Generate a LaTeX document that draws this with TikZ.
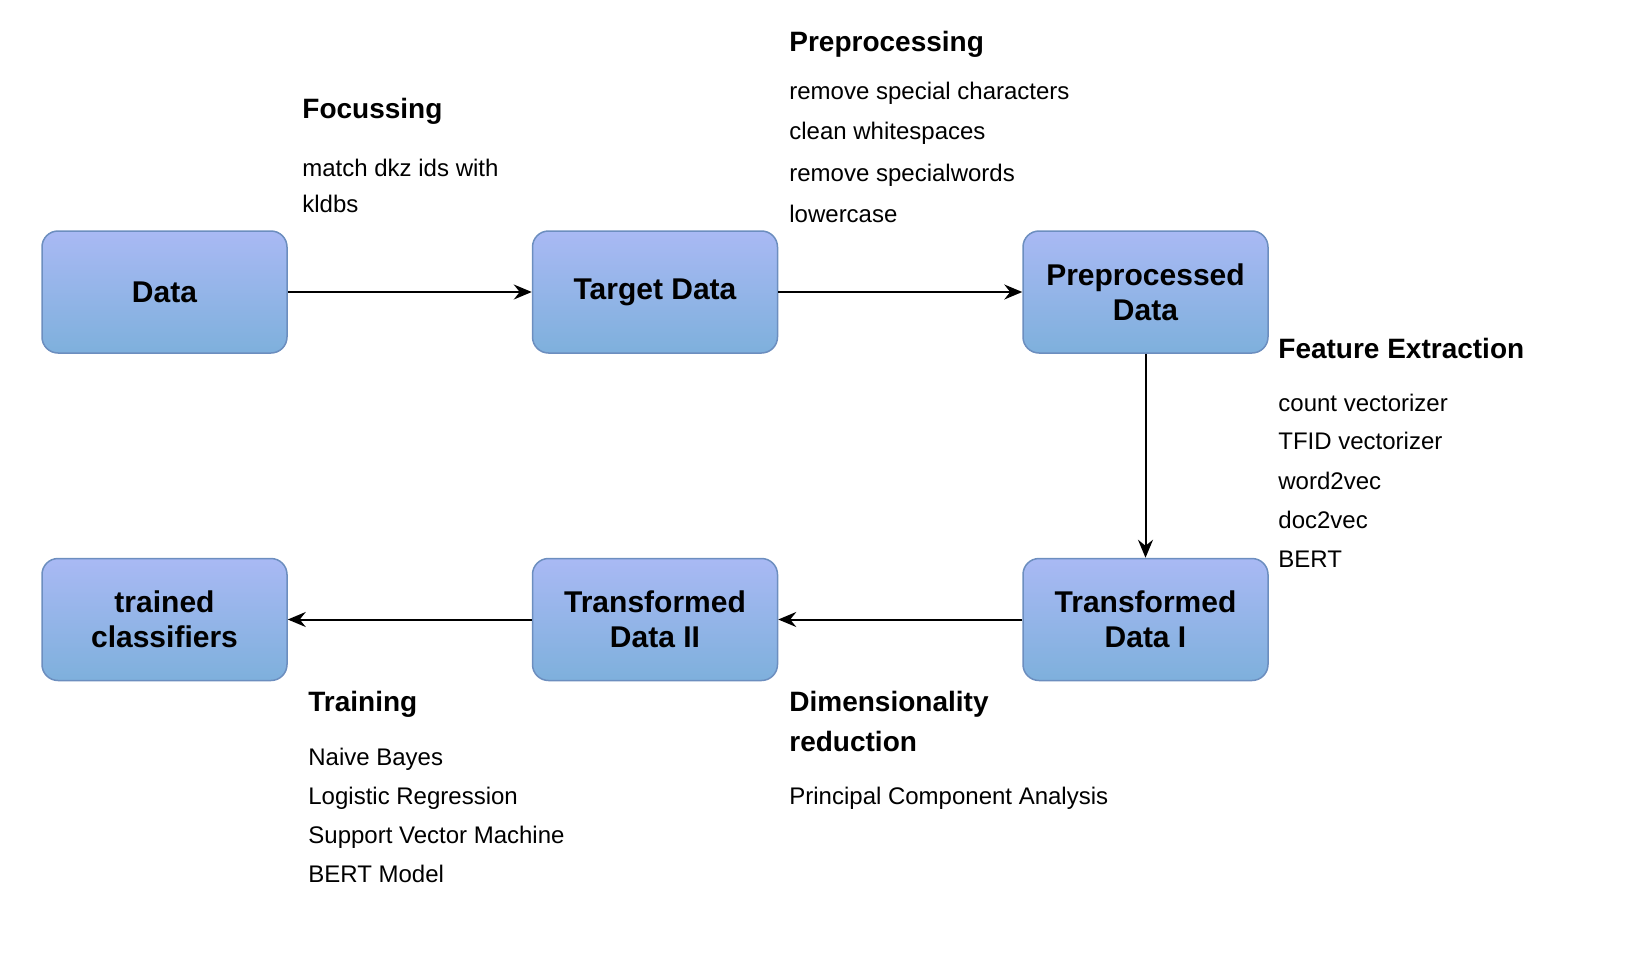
\documentclass[tikz,border=0pt]{standalone}
\usepackage{fontspec}
\setmainfont{Liberation Sans}
\usepackage{tikz}
\usetikzlibrary{arrows.meta,positioning,calc}

\definecolor{boxtop}{HTML}{A9B9F4}
\definecolor{boxbottom}{HTML}{7EB0DC}
\definecolor{boxline}{HTML}{6C8EBF}

\begin{document}
\begin{tikzpicture}[x=0.5pt, y=-0.5pt, node distance=102pt and 122pt,
            stage/.style={draw=boxline, line width=0.75pt, rounded corners=8pt,
              top color=boxtop, bottom color=boxbottom,
              minimum width=122.5pt, minimum height=61pt, align=center,
              font=\fontsize{15}{17.5}\selectfont\bfseries},
            notehead/.style={anchor=base west, inner sep=0pt,
              font=\fontsize{14}{20}\selectfont\bfseries},
            note/.style={anchor=base west, inner sep=0pt,
              font=\fontsize{12}{14}\selectfont},
            flow/.style={line width=1pt, -{Stealth[length=9pt, width=7.5pt, inset=3pt]}}]
        \useasboundingbox (0,0) rectangle (1650,958);
        % process boxes
        \node[stage] (data) at (164.5,292) {Data};
        \node[stage, right=of data] (target) {Target Data};
        \node[stage, right=of target] (prep) {Preprocessed\\Data};
        \node[stage, below=of prep] (trans1) {Transformed\\Data I};
        \node[stage, left=of trans1] (trans2) {Transformed\\Data II};
        \node[stage, left=of trans2] (clf) {trained\\classifiers};
        % arrows
        \draw[flow] (data) -- (target);
        \draw[flow] (target) -- (prep);
        \draw[flow] (prep) -- (trans1);
        \draw[flow] (trans1) -- (trans2);
        \draw[flow] (trans2) -- (clf);
        % focussing
        \node[notehead] (focus) at (302,118) {Focussing};
        \node[note] (focus1) at (302,176.5) {match dkz ids with};
        \node[note] (focus2) at (302,212.5) {kldbs};
        % preprocessing
        \node[notehead] (pre) at (789,51) {Preprocessing};
        \node[note] (pre1) at (789,99.5) {remove special characters};
        \node[note] (pre2) at (789,139.5) {clean whitespaces};
        \node[note] (pre3) at (789,181.5) {remove specialwords};
        \node[note] (pre4) at (789,222.5) {lowercase};
        % feature extraction
        \node[notehead] (feat) at (1278,358) {Feature Extraction};
        \node[note] (feat1) at (1278,411.5) {count vectorizer};
        \node[note] (feat2) at (1278,449.5) {TFID vectorizer};
        \node[note] (feat3) at (1278,489.5) {word2vec};
        \node[note] (feat4) at (1278,528.5) {doc2vec};
        \node[note] (feat5) at (1278,567.5) {BERT};
        % dimensionality reduction
        \node[notehead] (dim) at (789,711) {Dimensionality};
        \node[notehead] (dim2) at (789,751) {reduction};
        \node[note] (dim1) at (789,804.5) {Principal Component Analysis};
        % training
        \node[notehead] (train) at (308,711) {Training};
        \node[note] (train1) at (308,765.5) {Naive Bayes};
        \node[note] (train2) at (308,804.5) {Logistic Regression};
        \node[note] (train3) at (308,843.5) {Support Vector Machine};
        \node[note] (train4) at (308,882.5) {BERT Model};
\end{tikzpicture}
\end{document}
